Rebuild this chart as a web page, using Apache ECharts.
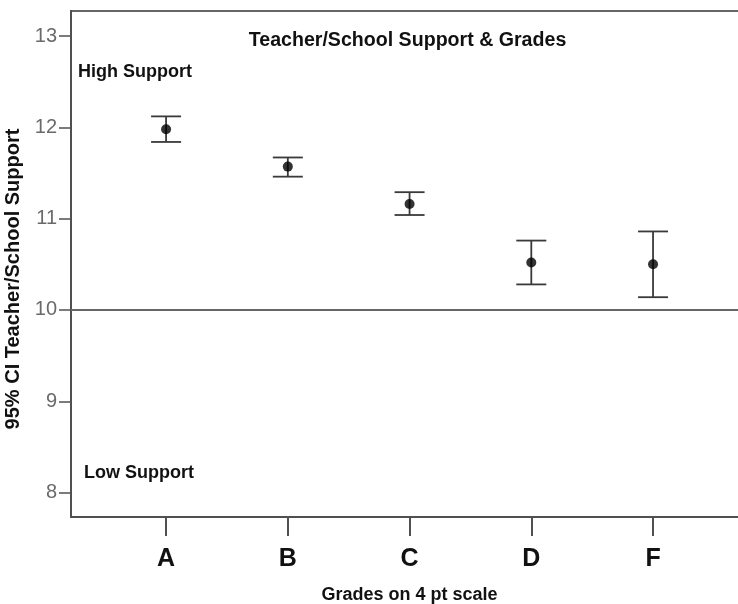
<!DOCTYPE html>
<html>
<head>
<meta charset="utf-8">
<script src="https://cdn.jsdelivr.net/npm/echarts@6/dist/echarts.min.js"></script>
<style>
html,body{margin:0;padding:0;background:#fff;}
#chart{width:738px;height:604px;}
</style>
</head>
<body>
<div id="chart"></div>
<script>
var categories = ['A', 'B', 'C', 'D', 'F'];
var means = [11.98, 11.57, 11.16, 10.52, 10.50];
var lowerCI = [11.84, 11.46, 11.04, 10.28, 10.14];
var upperCI = [12.12, 11.67, 11.29, 10.76, 10.86];
var yTicks = [8, 9, 10, 11, 12, 13];
var referenceValue = 10;

var positions = categories.map(function (c, i) { return i + 1; });
var pointData = categories.map(function (c, i) { return [positions[i], means[i]]; });
var barData = categories.map(function (c, i) { return [positions[i], lowerCI[i], upperCI[i]]; });

var FONT = '"Liberation Sans", Arial, sans-serif';
var chart = echarts.init(document.getElementById('chart'));
chart.setOption({
  animation: false,
  backgroundColor: '#ffffff',
  title: {
    text: 'Teacher/School Support & Grades',
    left: 407.5, top: 31, textAlign: 'center', padding: 0,
    textStyle: { fontFamily: FONT, fontSize: 19.6, fontWeight: 'bold', color: '#111' }
  },
  graphic: [
    { type: 'text', left: 78, top: 63, style: { text: 'High Support', font: 'bold 18px ' + FONT, fill: '#111' } },
    { type: 'text', left: 84, top: 464, style: { text: 'Low Support', font: 'bold 18px ' + FONT, fill: '#111' } }
  ],
  grid: {
    left: 71, right: -10, top: 11, bottom: 87,
    show: true, borderColor: '#666', borderWidth: 2,
    outerBoundsMode: 'none'
  },
  xAxis: {
    type: 'value', min: 0.219, max: 5.78,
    name: 'Grades on 4 pt scale', nameLocation: 'middle', nameGap: 69,
    nameTextStyle: { fontFamily: FONT, fontSize: 18, fontWeight: 'bold', color: '#111' },
    axisLine: { show: true, onZero: false, lineStyle: { color: '#505050', width: 2 } },
    axisTick: { show: true, length: 19, customValues: positions, lineStyle: { color: '#505050', width: 2 } },
    axisLabel: {
      customValues: positions, margin: 30,
      fontFamily: FONT, fontSize: 25, fontWeight: 'bold', color: '#111',
      formatter: function (v) { return categories[Math.round(v) - 1] || ''; }
    },
    splitLine: { show: false }
  },
  yAxis: {
    type: 'value', min: 7.733, max: 13.274,
    name: '95% CI Teacher/School Support', nameLocation: 'middle', nameGap: 48,
    nameTextStyle: { fontFamily: FONT, fontSize: 20, fontWeight: 'bold', color: '#111', padding: [0, 30, 0, 0] },
    axisLine: { show: true, onZero: false, lineStyle: { color: '#505050', width: 2 } },
    axisTick: { show: true, length: 12, customValues: yTicks, lineStyle: { color: '#505050', width: 1.5 } },
    axisLabel: { customValues: yTicks, margin: 14, padding: [4, 0, 0, 0], fontFamily: FONT, fontSize: 20, color: '#6a6a6a' },
    splitLine: { show: false }
  },
  series: [
    {
      type: 'custom',
      data: barData,
      encode: { x: 0, y: [1, 2] },
      renderItem: function (params, api) {
        var x = api.value(0);
        var lo = api.coord([x, api.value(1)]);
        var hi = api.coord([x, api.value(2)]);
        var half = 15;
        var style = { stroke: '#3a3a3a', lineWidth: 1.8 };
        return {
          type: 'group',
          children: [
            { type: 'line', shape: { x1: lo[0], y1: lo[1], x2: hi[0], y2: hi[1] }, style: style },
            { type: 'line', shape: { x1: hi[0] - half, y1: hi[1], x2: hi[0] + half, y2: hi[1] }, style: style },
            { type: 'line', shape: { x1: lo[0] - half, y1: lo[1], x2: lo[0] + half, y2: lo[1] }, style: style }
          ]
        };
      },
      z: 2
    },
    {
      type: 'scatter',
      data: pointData,
      symbol: 'circle', symbolSize: 10,
      itemStyle: { color: '#000' },
      z: 3,
      markLine: {
        silent: true, symbol: ['none', 'none'],
        label: { show: false },
        lineStyle: { color: '#666', width: 2, type: 'solid' },
        data: [{ yAxis: referenceValue }]
      }
    }
  ]
});
</script>
</body>
</html>
